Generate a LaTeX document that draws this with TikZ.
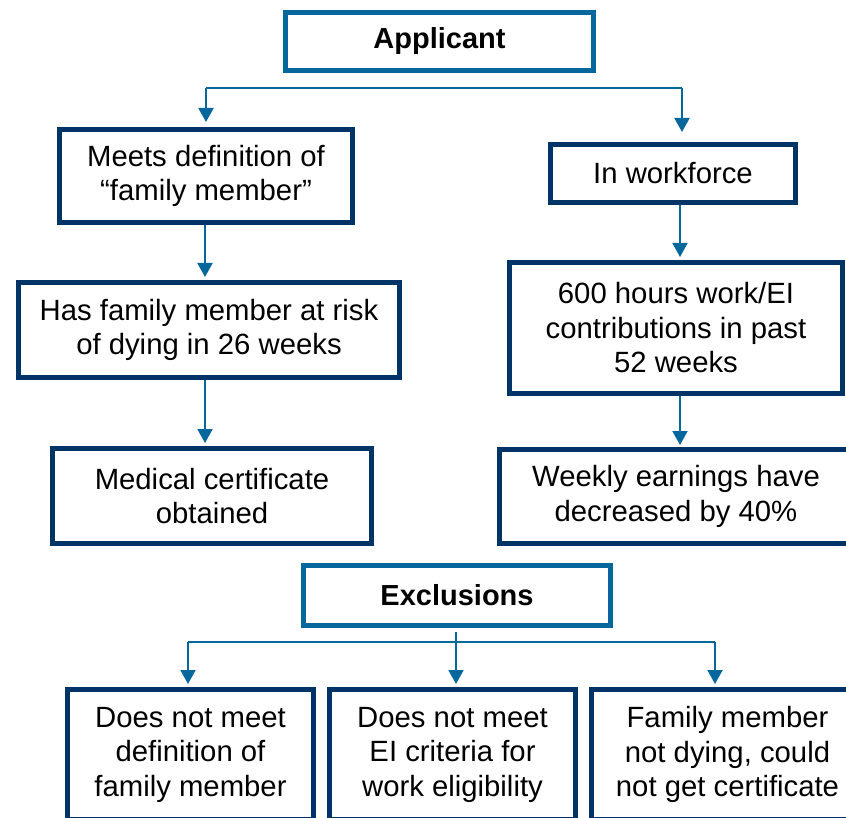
\documentclass[tikz,border=0pt]{standalone}
\usepackage{fontspec}
\setmainfont{Liberation Sans}
\usetikzlibrary{arrows.meta}
\definecolor{navy}{HTML}{003366}
\definecolor{mblue}{HTML}{05679C}
\begin{document}
\begin{tikzpicture}[x=1pt,y=-1pt,
 box/.style={draw=navy, line width=5pt, rectangle, inner sep=0pt, align=center, font=\fontsize{29.3}{34.5}\selectfont, text=black},
 hbox/.style={box, draw=mblue, font=\fontsize{29}{34}\selectfont\bfseries},
 link/.style={draw=mblue, line width=2pt},
 arr/.style={link, -{Triangle[length=14pt,width=15pt]}, shorten >=3pt}]
\useasboundingbox (0,0) rectangle (846,818);

\node[hbox, minimum width=308pt, minimum height=58pt] (app) at (439.5,41.5) {Applicant};
\node[box, minimum width=293pt, minimum height=93pt] (meets) at (206,176) {Meets definition of\\“family member”};
\node[box, minimum width=245pt, minimum height=58pt] (work) at (673,173.5) {In workforce};
\node[box, minimum width=381pt, minimum height=95pt] (has) at (209,330) {Has family member at risk\\of dying in 26 weeks};
\node[box, minimum width=319pt, minimum height=95pt] (med) at (212,496) {Medical certificate\\obtained};
\node[box, minimum width=333pt, minimum height=131pt] (six) at (676,328) {600 hours work/EI\\contributions in past\\52 weeks};
\node[box, minimum width=353pt, minimum height=94pt] (weekly) at (676,496.5) {Weekly earnings have\\decreased by 40\%};
\node[hbox, minimum width=307pt, minimum height=60pt] (excl) at (457,595.5) {Exclusions};
\node[box, minimum width=246pt, minimum height=130pt] (b1) at (190.5,754.5) {Does not meet\\definition of\\family member};
\node[box, minimum width=246pt, minimum height=130pt] (b2) at (452.5,754.5) {Does not meet\\EI criteria for\\work eligibility};
\node[box, minimum width=272pt, minimum height=130pt] (b3) at (727.5,754.5) {Family member\\not dying, could\\not get certificate};

% top split
\coordinate (tl) at (206,88);
\coordinate (tr) at (682,88);
\coordinate (trend) at (682,132);
\draw[link] (tl) -- (tr);
\draw[arr, shorten >=5pt] (tl) -- (meets.north -| tl);
\draw[arr, shorten >=0pt] (tr) -- (trend);

% left column
\coordinate (cl) at (205,0);
\draw[arr] (meets.south -| cl) -- (has.north -| cl);
\draw[arr] (has.south -| cl) -- (med.north -| cl);

% right column
\coordinate (cr) at (680,0);
\draw[arr] (work.south -| cr) -- (six.north -| cr);
\draw[arr, shorten >=2pt] (six.south -| cr) -- (weekly.north -| cr);

% exclusions split
\coordinate (el) at (188,642);
\coordinate (er) at (715,642);
\coordinate (em) at (456,0);
\draw[link] (el) -- (er);
\draw[arr, shorten <=4pt] (excl.south -| em) -- (b2.north -| em);
\draw[arr] (el) -- (b1.north -| el);
\draw[arr] (er) -- (b3.north -| er);
\end{tikzpicture}
\end{document}
